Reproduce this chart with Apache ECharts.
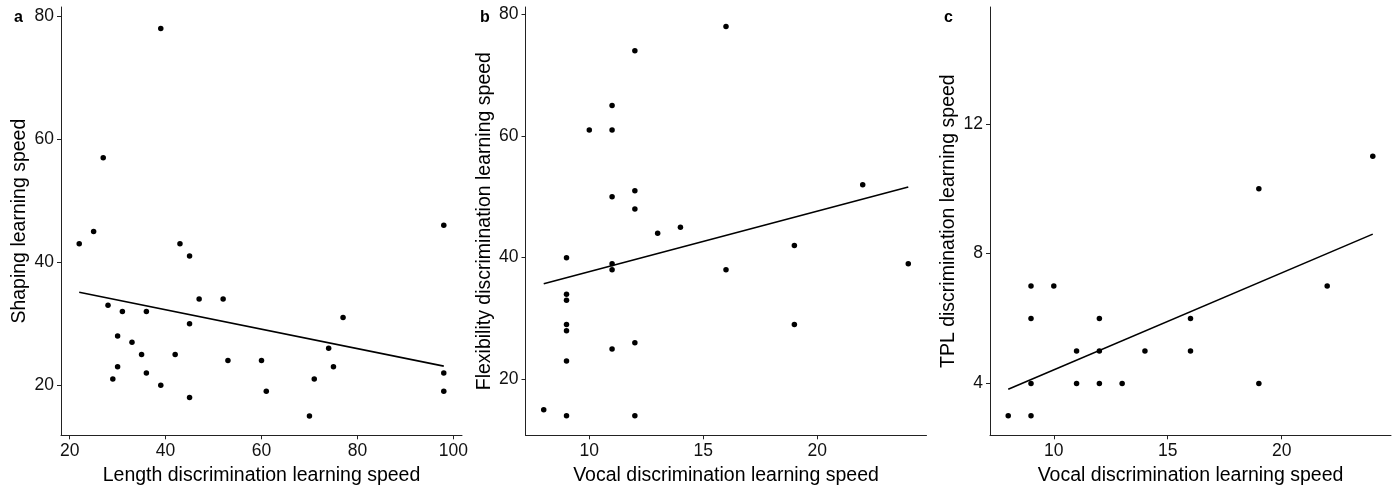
<!DOCTYPE html>
<html>
<head>
<meta charset="utf-8">
<script src="https://cdn.jsdelivr.net/npm/echarts@6/dist/echarts.min.js"></script>
<style>
html,body{margin:0;padding:0;background:#fff;}
#chart{width:1393px;height:486px;}
</style>
</head>
<body>
<div id="chart"></div>
<script>
// Panel a: Length discrimination (x) vs Shaping (y)
const pointsA = [
  [39,78],[27,57],[22,43],[25,45],[43,43],[98,46],[45,41],[28,33],[31,32],[36,32],
  [47,34],[52,34],[45,30],[77,31],[30,28],[33,27],[35,25],[42,25],[53,24],[60,24],
  [74,26],[30,23],[75,23],[36,22],[98,22],[29,21],[71,21],[39,20],[61,19],[98,19],
  [45,18],[70,15]
];
const fitA = [[22,35.1],[98,23.1]];
// Panel b: Vocal discrimination (x) vs Flexibility (y)
const pointsB = [
  [16,78],[12,74],[11,65],[10,61],[11,61],[12,51],[11,50],[22,52],[12,48],[14,45],
  [13,44],[19,42],[9,40],[11,39],[11,38],[16,38],[24,39],[9,34],[9,33],[9,29],
  [9,28],[19,29],[12,26],[11,25],[9,23],[8,15],[9,14],[12,14]
];
const fitB = [[8,35.7],[24,51.6]];
// Panel c: Vocal discrimination (x) vs TPL (y)
const pointsC = [
  [19,10],[24,11],[9,7],[10,7],[22,7],[9,6],[12,6],[16,6],[11,5],[12,5],
  [14,5],[16,5],[9,4],[11,4],[12,4],[13,4],[19,4],[8,3],[9,3]
];
const fitC = [[8,3.82],[24,8.6]];

const xTicksA = [20,40,60,80,100];
const yTicksA = [20,40,60,80];
const xTicksB = [10,15,20];
const yTicksB = [20,40,60,80];
const xTicksC = [10,15,20];
const yTicksC = [4,8,12];

const xRanges = [[18.2,101.8],[7.2,24.8],[7.2,24.8]];
const yRanges = [[11.85,81.5],[10.8,81.2],[2.4,15.6]];

const xNames = ['Length discrimination learning speed','Vocal discrimination learning speed','Vocal discrimination learning speed'];
const yNames = ['Shaping learning speed','Flexibility discrimination learning speed','TPL discrimination learning speed'];
const panelLabels = ['a','b','c'];

const FONT = 'Liberation Sans, Arial, sans-serif';
const gridLefts = [61, 525.5, 990];
const axisLineStyle = {color:'#222', width:1};

const chart = echarts.init(document.getElementById('chart'), null, {renderer:'canvas'});

const grids = gridLefts.map(l => ({left:l, top:7, width:401, height:428.3, containLabel:false, outerBoundsMode:'none'}));
const xTickSets = [xTicksA, xTicksB, xTicksC];
const yTickSets = [yTicksA, yTicksB, yTicksC];

const xAxes = [0,1,2].map(i => ({
  type:'value', gridIndex:i, min:xRanges[i][0], max:xRanges[i][1],
  name:xNames[i], nameLocation:'middle', nameGap:29,
  nameTextStyle:{fontFamily:FONT, fontSize:19.5, color:'#000'},
  axisLine:{show:true, onZero:false, lineStyle:axisLineStyle},
  axisTick:{show:true, length:4, lineStyle:axisLineStyle, customValues:xTickSets[i]},
  axisLabel:{show:true, margin:7, fontFamily:FONT, fontSize:17.5, color:'#111', customValues:xTickSets[i]},
  splitLine:{show:false}
}));
const yAxes = [0,1,2].map(i => ({
  type:'value', gridIndex:i, min:yRanges[i][0], max:yRanges[i][1],
  name:yNames[i], nameLocation:'middle', nameGap:31, nameRotate:90,
  nameTextStyle:{fontFamily:FONT, fontSize:19.5, color:'#000'},
  axisLine:{show:true, onZero:false, lineStyle:axisLineStyle},
  axisTick:{show:true, length:4, lineStyle:axisLineStyle, customValues:yTickSets[i]},
  axisLabel:{show:true, margin:7, fontFamily:FONT, fontSize:17.5, color:'#111', customValues:yTickSets[i]},
  splitLine:{show:false}
}));

const pts = [pointsA, pointsB, pointsC];
const fits = [fitA, fitB, fitC];
const series = [];
[0,1,2].forEach(i => {
  series.push({
    type:'line', xAxisIndex:i, yAxisIndex:i, data:fits[i], symbol:'none',
    lineStyle:{color:'#000', width:1.6}, silent:true, z:2, animation:false
  });
  series.push({
    type:'scatter', xAxisIndex:i, yAxisIndex:i, data:pts[i], symbol:'circle', symbolSize:5.5,
    itemStyle:{color:'#000', opacity:1}, z:3, animation:false
  });
});

const labelX = [9, 475, 939];
const titles = panelLabels.map((t,i) => ({
  text:t, left:labelX[i], top:5,
  textStyle:{fontFamily:FONT, fontSize:16, fontWeight:'bold', color:'#000'}
}));

chart.setOption({
  backgroundColor:'#fff',
  animation:false,
  title:titles,
  grid:grids,
  xAxis:xAxes,
  yAxis:yAxes,
  series:series
});
</script>
</body>
</html>
